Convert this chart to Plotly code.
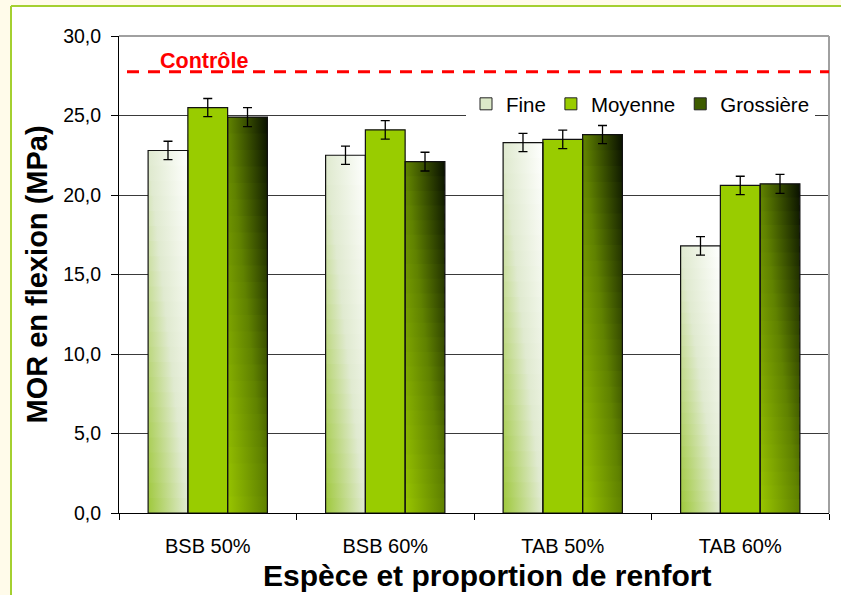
import plotly.graph_objects as go

# ---------------- data ----------------
categories = ["BSB 50%", "BSB 60%", "TAB 50%", "TAB 60%"]
series_names = ["Fine", "Moyenne", "Grossière"]
fine = [22.8, 22.5, 23.3, 16.8]
moyenne = [25.5, 24.1, 23.5, 20.6]
grossiere = [24.9, 22.1, 23.8, 20.7]
fine_err = [0.58, 0.57, 0.57, 0.58]
moyenne_err = [0.57, 0.58, 0.58, 0.58]
grossiere_err = [0.60, 0.59, 0.57, 0.60]
controle = 27.75
controle_label = "Contrôle"
y_tick_values = [0, 5, 10, 15, 20, 25, 30]
x_title = "Espèce et proportion de renfort"
y_title = "MOR en flexion (MPa)"

# ---------------- style ----------------
FONT = "Liberation Sans, Arial, sans-serif"
CREAM = "#FFFBEA"
FRAME = "#A4D030"
bar_width = 0.224
n_strips = 24
palettes = {
    "Fine": [(0.0, "#9EC83A"), (0.5, "#E0EAD0"), (1.0, "#FFFFFF")],
    "Moyenne": [(0.0, "#99CC00"), (1.0, "#99CC00")],
    "Grossière": [(0.0, "#99C600"), (0.5, "#608200"), (1.0, "#081000")],
}
legend_colors = {"Fine": "#DCE9C8", "Moyenne": "#99CC00", "Grossière": "#3E5C00"}


def hex_rgb(h):
    h = h.lstrip("#")
    return [int(h[i:i + 2], 16) for i in (0, 2, 4)]


def color_at(stops, s):
    s = max(0.0, min(1.0, s))
    for (p0, c0), (p1, c1) in zip(stops[:-1], stops[1:]):
        if p0 <= s <= p1:
            t = 0 if p1 == p0 else (s - p0) / (p1 - p0)
            a, b = hex_rgb(c0), hex_rgb(c1)
            r = [round(a[i] + (b[i] - a[i]) * t) for i in range(3)]
            return "rgb(%d,%d,%d)" % tuple(r)
    return stops[-1][1]


fig = go.Figure()

series_vals = [fine, moyenne, grossiere]
series_errs = [fine_err, moyenne_err, grossiere_err]
n_series = len(series_names)

for si, (name, vals) in enumerate(zip(series_names, series_vals)):
    pal = palettes[name]
    offset = (si - (n_series - 1) / 2) * bar_width
    for ci, v in enumerate(vals):
        xl = ci + offset - bar_width / 2
        xr = xl + bar_width
        for k in range(n_strips):
            y0 = v * k / n_strips
            y1 = min(v * (k + 1.45) / n_strips, v)
            yn = (k + 0.5) / n_strips
            pos = [0.0]
            if 0 < 1 - yn < 1:
                pos.append(1 - yn)
            pos.append(1.0)
            cs = [[p, color_at(pal, (p + yn) / 2)] for p in pos]
            fig.add_trace(go.Scatter(
                x=[xl, xr, xr, xl, xl], y=[y0, y0, y1, y1, y0],
                fill="toself", mode="none",
                fillgradient=dict(type="horizontal", colorscale=cs),
                showlegend=False, hoverinfo="skip"))

# outlines + error bars
for si, (name, vals, errs) in enumerate(zip(series_names, series_vals, series_errs)):
    offset = (si - (n_series - 1) / 2) * bar_width
    ox, oy = [], []
    for ci, v in enumerate(vals):
        xl = ci + offset - bar_width / 2
        xr = xl + bar_width
        ox += [xl, xr, xr, xl, xl, None]
        oy += [0, 0, v, v, 0, None]
    fig.add_trace(go.Scatter(x=ox, y=oy, mode="lines",
                             line=dict(color="#111111", width=1.2),
                             showlegend=False, hoverinfo="skip"))
    fig.add_trace(go.Scatter(
        x=[ci + offset for ci in range(len(vals))], y=vals, mode="markers",
        marker=dict(size=1, color="rgba(0,0,0,0)"),
        error_y=dict(type="data", array=errs, color="black", thickness=1.3, width=4.5),
        showlegend=False, hoverinfo="skip"))

# legend entries
for name in series_names:
    fig.add_trace(go.Bar(x=[None], y=[None], name=name,
                         marker=dict(color=legend_colors[name],
                                     line=dict(color="#222222", width=1))))

# geometry of plot area in pixels
W, H = 841, 595
L, R, T, B = 119, 12, 36, 82
pw, ph = W - L - R, H - T - B


def px_x(p):
    return (p - L) / pw


def px_y(p):
    return (H - B - p) / ph


fig.update_layout(
    width=W, height=H,
    margin=dict(l=L, r=R, t=T, b=B, pad=0),
    paper_bgcolor="white",
    plot_bgcolor="white",
    separators=", ",
    font=dict(family=FONT, size=20, color="black"),
    showlegend=True,
    legend=dict(orientation="h", x=px_x(466), xanchor="left",
                y=px_y(84), yanchor="top", bgcolor="white", borderwidth=0,
                font=dict(family=FONT, size=20.5, color="black"),
                itemwidth=30, traceorder="normal"),
    xaxis=dict(range=[-0.5, len(categories) - 0.5],
               tickmode="array", tickvals=list(range(len(categories))),
               ticktext=categories, ticks="", showgrid=False, zeroline=False,
               showline=True, linecolor="black", linewidth=1,
               tickfont=dict(family=FONT, size=20, color="black"),
               ticklabelstandoff=15,
               minor=dict(tickmode="array",
                          tickvals=[i - 0.5 for i in range(len(categories) + 1)],
                          ticks="outside", ticklen=6, tickcolor="black",
                          tickwidth=1, showgrid=False)),
    yaxis=dict(range=[0, 30], tickmode="array", tickvals=y_tick_values,
               tickformat=".1f", ticks="outside", ticklen=7, tickcolor="black",
               showgrid=True, gridcolor="#3a3a3a", gridwidth=1, zeroline=False,
               showline=True, linecolor="black", linewidth=1,
               tickfont=dict(family=FONT, size=19.5, color="black"),
               ticklabelstandoff=6),
    shapes=[
        # cream outer margin (left and top) with green frame lines
        dict(type="rect", xref="paper", yref="paper",
             x0=px_x(-20), x1=px_x(11), y0=px_y(H + 20), y1=px_y(-20),
             fillcolor=CREAM, line=dict(width=0), layer="below"),
        dict(type="rect", xref="paper", yref="paper",
             x0=px_x(-20), x1=px_x(W + 20), y0=px_y(6), y1=px_y(-20),
             fillcolor=CREAM, line=dict(width=0), layer="below"),
        dict(type="line", xref="paper", yref="paper",
             x0=px_x(11), x1=px_x(11), y0=px_y(6), y1=px_y(H + 20),
             line=dict(color=FRAME, width=2), layer="below"),
        dict(type="line", xref="paper", yref="paper",
             x0=px_x(11), x1=px_x(W + 20), y0=px_y(6), y1=px_y(6),
             line=dict(color=FRAME, width=2), layer="below"),
        # plot area border (top, right)
        dict(type="line", xref="paper", yref="paper", x0=0, x1=1, y0=1, y1=1,
             line=dict(color="#A0A0A0", width=2), layer="above"),
        dict(type="line", xref="paper", yref="paper", x0=1, x1=1, y0=0, y1=1,
             line=dict(color="#A0A0A0", width=2), layer="above"),
        # control reference line
        dict(type="line", xref="paper", yref="y", x0=px_x(127), x1=1,
             y0=controle, y1=controle,
             line=dict(color="#FF0000", width=3, dash="12px,9px"), layer="above"),
    ],
    annotations=[
        dict(text="<b>%s</b>" % controle_label, xref="paper", yref="y",
             x=px_x(204), y=controle, xanchor="center", yanchor="bottom",
             yshift=-3, showarrow=False,
             font=dict(family=FONT, size=21.5, color="#FF0000")),
        dict(text="<b>%s</b>" % x_title, xref="paper", yref="paper",
             x=px_x(487), y=px_y(575), xanchor="center", yanchor="middle",
             showarrow=False, font=dict(family=FONT, size=30, color="black")),
        dict(text="<b>%s</b>" % y_title, xref="paper", yref="paper",
             x=px_x(36), y=0.5, xanchor="center", yanchor="middle",
             textangle=-90, showarrow=False,
             font=dict(family=FONT, size=29, color="black")),
    ],
)

fig.write_html("out.html",
               config={"displayModeBar": False},
               post_script="document.body.style.margin='0px';"
                           "document.body.style.overflow='hidden';"
                           "document.documentElement.style.overflow='hidden';")
